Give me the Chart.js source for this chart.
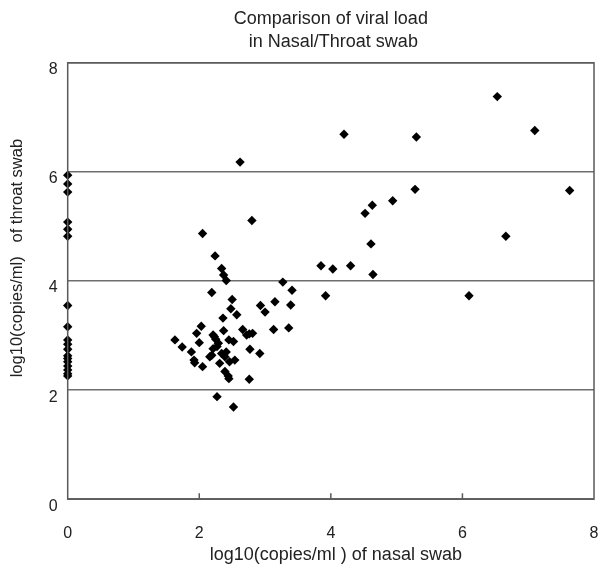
<!DOCTYPE html>
<html>
<head>
<meta charset="utf-8">
<script src="https://cdn.jsdelivr.net/npm/chart.js@4.4.1/dist/chart.umd.min.js"></script>
<style>
  html, body { margin: 0; padding: 0; background: #fff; }
  #wrap { width: 602px; height: 568px; }
</style>
</head>
<body>
<div id="wrap"><canvas id="viralChart" width="602" height="568"></canvas></div>
<script>
// nasal swab log10 values (x) and throat swab log10 values (y)
const nasalLoad = [
  0, 0, 0, 0, 0, 0, 0, 0, 0, 0, 0, 0, 0, 0, 0, 0, 0, 0,
  2.05, 2.24, 2.34, 2.37, 2.41, 2.19, 2.50, 2.62, 2.80, 3.27, 3.15,
  6.53, 4.20, 5.30, 7.10, 5.28, 7.63, 4.94, 4.63, 4.52, 4.61, 6.66,
  3.85, 4.03, 4.30, 4.64, 3.41, 3.39, 3.92, 6.10, 3.36,
  2.93, 3.00, 3.13, 2.81,
  2.48, 2.57, 2.36, 2.03, 1.96, 2.37, 2.66, 2.76, 2.21, 1.63, 2.00,
  1.74, 2.25, 2.29, 2.45, 2.52, 2.77, 2.92, 1.88, 2.19, 2.21, 2.34,
  2.39, 2.16, 1.92, 1.93, 2.41, 2.54, 2.46, 2.31, 2.05, 2.39, 2.44,
  2.45, 2.76, 2.27, 2.52, 2.72, 2.23, 2.27
];
const throatLoad = [
  5.94, 5.78, 5.63, 5.08, 4.95, 4.82, 3.55, 3.16, 2.92, 2.84, 2.75, 2.63, 2.58, 2.52, 2.44, 2.37, 2.30, 2.26,
  4.87, 4.46, 4.23, 4.11, 4.01, 3.79, 3.66, 6.18, 5.11, 3.98, 3.62,
  7.38, 6.69, 6.64, 6.76, 5.68, 5.66, 5.47, 5.39, 5.24, 4.68, 4.82,
  4.28, 4.22, 4.28, 4.12, 3.83, 3.56, 3.73, 3.73, 3.14,
  3.55, 3.43, 3.11, 3.04,
  3.49, 3.38, 3.32, 3.17, 3.04, 3.09, 3.11, 3.03, 3.01, 2.92, 2.87,
  2.79, 2.93, 2.86, 2.92, 2.89, 2.75, 2.67, 2.70, 2.64, 2.76, 2.67,
  2.61, 2.61, 2.55, 2.50, 2.70, 2.55, 2.52, 2.49, 2.43, 2.34, 2.26,
  2.21, 2.20, 1.88, 1.69, 3.01, 2.98, 2.80
];
const axisTicks = [0, 2, 4, 6, 8];

const points = nasalLoad.map((x, i) => ({ x: x, y: throatLoad[i] }));

// frame around the plot and the small inward ticks on the x axis
const framePlugin = {
  id: 'frame',
  afterDatasetsDraw(chart) {
    const { ctx, chartArea: a, scales } = chart;
    ctx.save();
    ctx.strokeStyle = '#5a5a5a';
    ctx.lineWidth = 1.5;
    ctx.strokeRect(a.left, a.top, a.right - a.left, a.bottom - a.top);
    ctx.beginPath();
    axisTicks.slice(1, -1).forEach(v => {
      const px = scales.x.getPixelForValue(v);
      ctx.moveTo(px, a.bottom);
      ctx.lineTo(px, a.bottom - 6);
    });
    ctx.stroke();
    ctx.restore();
  }
};

new Chart(document.getElementById('viralChart'), {
  type: 'scatter',
  data: {
    datasets: [{
      data: points,
      pointStyle: 'rectRot',
      pointRadius: 4.7,
      backgroundColor: '#000',
      borderColor: '#000',
      borderWidth: 0,
      clip: false
    }]
  },
  options: {
    responsive: false,
    animation: false,
    layout: { padding: { left: 0, right: 8, top: 0, bottom: 0 } },
    plugins: {
      legend: { display: false },
      tooltip: { enabled: false },
      title: {
        display: true,
        fullSize: false,
        text: ['Comparison of viral load', ' in Nasal/Throat swab'],
        color: '#222',
        font: { family: 'Liberation Sans', size: 18, weight: 'normal', lineHeight: 1.3 },
        padding: { top: 7, bottom: 9 }
      }
    },
    scales: {
      x: {
        type: 'linear',
        min: 0,
        max: 8,
        afterBuildTicks: s => { s.ticks = axisTicks.map(v => ({ value: v })); },
        grid: { display: true, drawOnChartArea: false, drawTicks: true, tickLength: 25, tickColor: 'rgba(0,0,0,0)' },
        border: { display: false },
        ticks: {
          color: '#222',
          font: { family: 'Liberation Sans', size: 16 },
          padding: 0,
          maxRotation: 0
        },
        title: {
          display: true,
          text: '  log10(copies/ml ) of nasal swab',
          color: '#222',
          font: { family: 'Liberation Sans', size: 18 },
          padding: { top: 1, bottom: 2 }
        }
      },
      y: {
        type: 'linear',
        min: 0,
        max: 8,
        afterBuildTicks: s => { s.ticks = axisTicks.map(v => ({ value: v })); },
        grid: { color: '#6e6e6e', lineWidth: 1.5, drawTicks: true, tickLength: 10, tickColor: 'rgba(0,0,0,0)' },
        border: { display: false },
        ticks: {
          color: '#222',
          font: { family: 'Liberation Sans', size: 16 },
          padding: 0,
          labelOffset: 7
        },
        title: {
          display: true,
          text: '          log10(copies/ml)   of throat swab',
          color: '#222',
          font: { family: 'Liberation Sans', size: 16.5 },
          padding: { top: 8, bottom: 21 }
        }
      }
    }
  },
  plugins: [framePlugin]
});
</script>
</body>
</html>
